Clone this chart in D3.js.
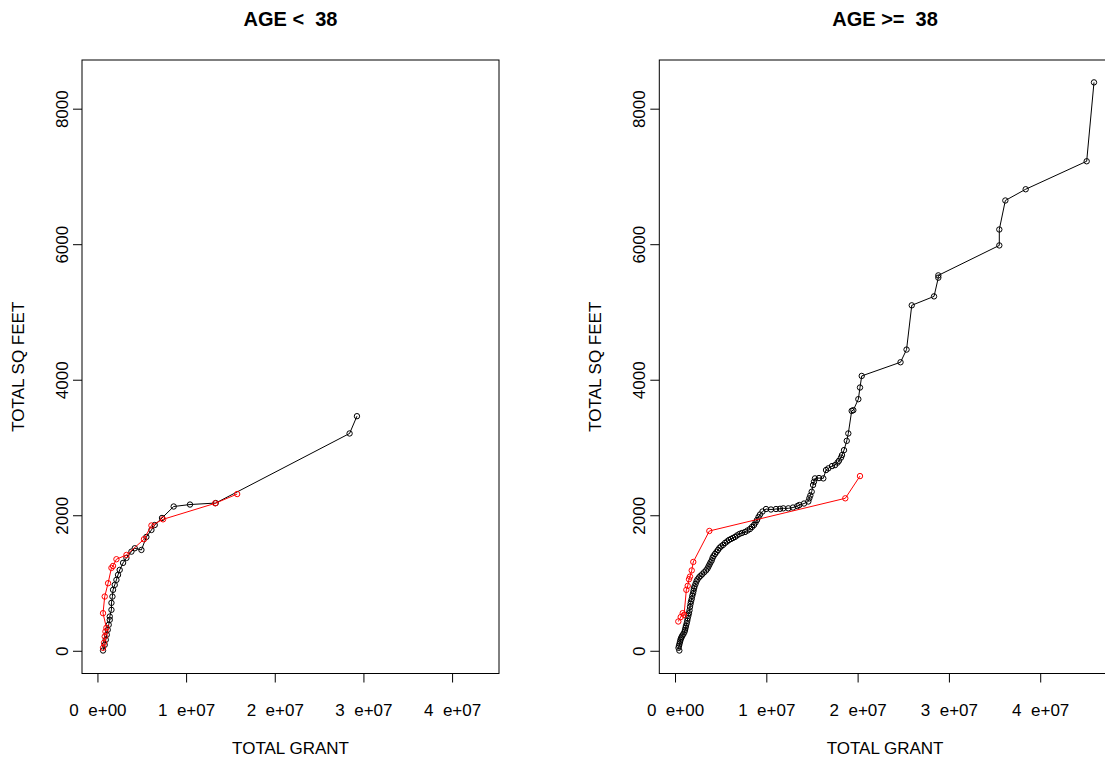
<!DOCTYPE html>
<html>
<head>
<meta charset="utf-8">
<style>
    body { margin: 0; background: #fff; }
    text { font-family: "Liberation Sans", Arial, sans-serif; fill: #000; }
</style>
</head>
<body>
<div id="chart"></div>
<script src="https://cdn.jsdelivr.net/npm/d3@7"></script>
<script>

    // grant values are in millions, sq feet as is
    var grantYoungBlack = [0.63, 0.82, 0.94, 1.05, 1.16, 1.27, 1.39, 1.39, 1.58, 1.58, 1.69, 1.76, 1.95, 2.14, 2.32, 2.51,
        2.89, 3.27, 3.83, 4.21, 4.96, 5.52, 6.09, 6.46, 7.28, 8.60, 10.44, 13.34, 28.44, 29.27];
    var sqftYoungBlack = [4, 88, 162, 236, 309, 383, 457, 505, 604, 707, 800, 899, 972, 1046, 1120, 1193,
        1297, 1370, 1463, 1513, 1488, 1680, 1783, 1856, 1960, 2129, 2158, 2180, 3207, 3462];

    var grantYoungRed = [0.63, 0.74, 0.82, 0.90, 1.01, 0.63, 0.82, 1.20, 1.58, 1.76, 2.14, 3.27, 5.25, 6.09, 7.40, 13.28, 15.76];
    var sqftYoungRed = [44, 118, 211, 284, 339, 555, 800, 997, 1223, 1252, 1351, 1414, 1646, 1849, 1940, 2176, 2313];

    var grantOldBlack = [0.47, 0.38, 0.44, 0.49, 0.55, 0.60, 0.66, 0.73, 0.82, 0.93, 1.04, 1.10, 1.15, 1.20, 1.28, 1.34,
        1.39, 1.46, 1.53, 1.59, 1.64, 1.70, 1.75, 1.83, 1.89, 1.97, 2.03, 2.08, 2.14, 2.25, 2.35, 2.46, 2.63, 2.79,
        2.96, 3.18, 3.40, 3.56, 3.67, 3.78, 3.89, 4.02, 4.11, 4.22, 4.38, 4.55, 4.71, 4.87, 5.04, 5.26, 5.48, 5.70,
        5.91, 6.13, 6.35, 6.57, 6.79, 7.06, 7.34, 7.67, 7.94, 8.21, 8.43, 8.65, 8.82, 8.98, 9.15, 9.31, 9.58, 9.97,
        10.51, 11.06, 11.50, 11.86, 12.41, 12.92, 13.40, 13.61, 14.13, 14.60, 14.71, 14.82, 14.97, 15.12, 15.22,
        15.33, 15.77, 16.24, 16.54, 16.79, 17.20, 17.53, 17.80, 17.96, 18.18, 18.29, 18.51, 18.81, 18.98, 19.35,
        19.53, 20.08, 20.26, 20.45, 24.70, 25.36, 25.93, 28.37, 28.84, 28.84, 35.52, 35.52, 36.18, 38.41, 45.09, 45.89];
    var sqftOldBlack = [4, 44, 74, 103, 133, 162, 184, 206, 228, 250, 280, 309, 339, 368, 405, 442,
        479, 516, 555, 597, 648, 692, 729, 766, 810, 847, 884, 921, 950, 987, 1024, 1053, 1083, 1105,
        1127, 1157, 1186, 1215, 1245, 1274, 1304, 1333, 1370, 1400, 1429, 1459, 1488, 1518, 1540, 1562, 1591, 1613,
        1635, 1650, 1665, 1680, 1702, 1724, 1739, 1753, 1775, 1797, 1827, 1856, 1893, 1930, 1974, 2011, 2055, 2092,
        2085, 2092, 2095, 2102, 2102, 2114, 2136, 2151, 2173, 2203, 2250, 2291, 2347, 2446, 2494,
        2544, 2549, 2544, 2667, 2692, 2726, 2740, 2777, 2804, 2851, 2888, 2961, 3098, 3207, 3540,
        3551, 3713, 3885, 4056, 4258, 4445, 5098, 5230, 5506, 5540, 5982, 6217, 6645, 6811, 7224, 8388];

    var grantOldRed = [0.36, 0.62, 0.84, 0.99, 1.24, 1.39, 1.53, 1.64, 1.83, 2.00, 3.76, 18.65, 20.26];
    var sqftOldRed = [432, 497, 555, 530, 899, 958, 1056, 1095, 1186, 1311, 1768, 2250, 2578];

    var xTicks = [0, 1e7, 2e7, 3e7, 4e7];
    var xTickLabels = ["0\u00a0\u00a0e+00", "1\u00a0\u00a0e+07", "2\u00a0\u00a0e+07", "3\u00a0\u00a0e+07", "4\u00a0\u00a0e+07"];
    var yTicks = [0, 2000, 4000, 6000, 8000];
    var panelTitles = ["AGE <\u00a0\u00a038", "AGE >=\u00a0\u00a038"];
    var xLimits = [[0, 43.55e6], [0.11e6, 45.9e6]];
    var yLimit = [0, 8383];

    var w = 1105;
    var h = 759;
    var plotTop = 60, plotBottom = 673.5;
    var panelLeft = [82, 659.3];
    var panelRight = [499, 1110.8];

    function pairs(gx, gy) {
        return gx.map(function (g, i) { return [g * 1e6, gy[i]]; });
    }

    var panels = [
        {black: pairs(grantYoungBlack, sqftYoungBlack), red: pairs(grantYoungRed, sqftYoungRed)},
        {black: pairs(grantOldBlack, sqftOldBlack), red: pairs(grantOldRed, sqftOldRed)}
    ];

    // R style 4% padding
    function pad(lim) {
        var e = (lim[1] - lim[0]) * 0.04;
        return [lim[0] - e, lim[1] + e];
    }

    var svg = d3.select("#chart")
        .append("svg")
        .attr("width", w)
        .attr("height", h);

    var yScale = d3.scaleLinear()
        .domain(pad(yLimit))
        .range([plotBottom, plotTop]);

    panels.forEach(function (p, k) {
        var x0 = panelLeft[k], x1 = panelRight[k];
        var xScale = d3.scaleLinear()
            .domain(pad(xLimits[k]))
            .range([x0, x1]);
        var cx = (x0 + x1) / 2;

        var g = svg.append("g");

        // x axis
        var xAxis = d3.axisBottom(xScale)
            .tickValues(xTicks)
            .tickFormat(function (d, i) { return xTickLabels[i]; })
            .tickSize(9)
            .tickPadding(21);
        var ax = g.append("g")
            .attr("transform", "translate(0," + plotBottom + ")")
            .call(xAxis);
        ax.select(".domain").remove();
        ax.selectAll("line").attr("stroke", "#000");
        ax.selectAll("text")
            .attr("font-size", 17)
            .attr("fill", "#000")
            .style("font-family", "Liberation Sans, Arial, sans-serif");

        // y axis
        var yAxis = d3.axisLeft(yScale)
            .tickValues(yTicks)
            .tickFormat(d3.format("d"))
            .tickSize(9);
        var ay = g.append("g")
            .attr("transform", "translate(" + x0 + ",0)")
            .call(yAxis);
        ay.select(".domain").remove();
        ay.selectAll("line").attr("stroke", "#000");
        ay.selectAll("text")
            .attr("font-size", 17)
            .attr("fill", "#000")
            .attr("x", 0)
            .attr("dy", null)
            .attr("text-anchor", "middle")
            .attr("dominant-baseline", "central")
            .attr("transform", "translate(-20,0) rotate(-90)")
            .style("font-family", "Liberation Sans, Arial, sans-serif");

        // box
        g.append("rect")
            .attr("x", x0)
            .attr("y", plotTop)
            .attr("width", x1 - x0)
            .attr("height", plotBottom - plotTop)
            .attr("fill", "none")
            .attr("stroke", "#000")
            .attr("stroke-width", 1);

        // titles
        g.append("text")
            .attr("x", cx)
            .attr("y", 19)
            .attr("text-anchor", "middle")
            .attr("dominant-baseline", "central")
            .attr("font-size", 20)
            .attr("font-weight", "bold")
            .text(panelTitles[k]);

        g.append("text")
            .attr("x", cx)
            .attr("y", 748)
            .attr("text-anchor", "middle")
            .attr("dominant-baseline", "central")
            .attr("font-size", 17)
            .text("TOTAL GRANT");

        g.append("text")
            .attr("transform", "translate(" + (x0 - 64) + "," + ((plotTop + plotBottom) / 2) + ") rotate(-90)")
            .attr("text-anchor", "middle")
            .attr("dominant-baseline", "central")
            .attr("font-size", 17)
            .text("TOTAL SQ FEET");

        var line = d3.line()
            .x(function (d) { return xScale(d[0]); })
            .y(function (d) { return yScale(d[1]); });

        // black series first, red on top
        [["black", "#000"], ["red", "#ff0000"]].forEach(function (s) {
            var ds = p[s[0]];
            g.append("path")
                .datum(ds)
                .attr("d", line)
                .attr("fill", "none")
                .attr("stroke", s[1])
                .attr("stroke-width", 1);
            g.selectAll("circle." + s[0])
                .data(ds)
                .enter()
                .append("circle")
                .attr("class", s[0])
                .attr("cx", function (d) { return xScale(d[0]); })
                .attr("cy", function (d) { return yScale(d[1]); })
                .attr("r", 2.7)
                .attr("fill", "none")
                .attr("stroke", s[1])
                .attr("stroke-width", 1);
        });
    });

</script>
</body>
</html>
